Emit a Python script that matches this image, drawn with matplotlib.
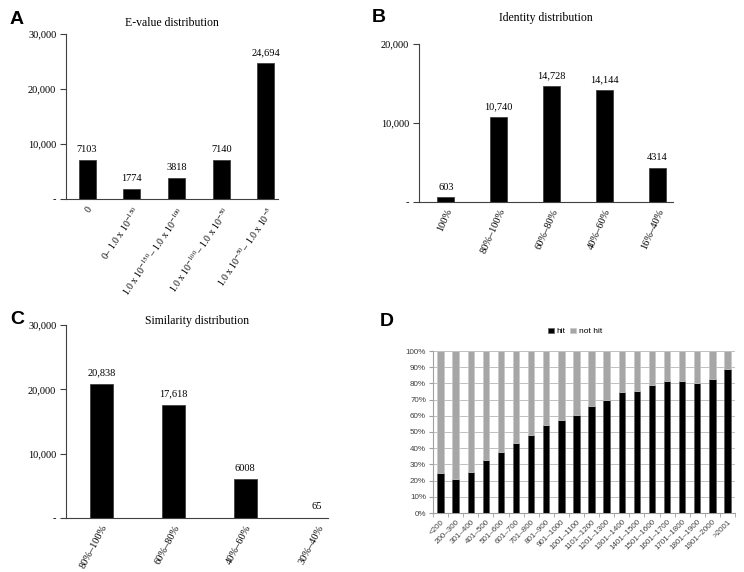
import matplotlib
matplotlib.use("Agg")
import matplotlib.pyplot as plt
import numpy as np

plt.rcParams['font.family'] = 'Liberation Serif'
plt.rcParams['mathtext.fontset'] = 'stix'

# panel A
evalue_labels = ["0", "0– 1.0 x 10$^{-150}$", "1.0 x 10$^{-150}$– 1.0 x 10$^{-100}$",
                 "1.0 x 10$^{-100}$– 1.0 x 10$^{-50}$", "1.0 x 10$^{-50}$– 1.0 x 10$^{-5}$"]
evalue_counts = [7103, 1774, 3818, 7140, 24694]

# panel B
identity_labels = ["100%", "80%–100%", "60%–80%", "40%–60%", "16%–40%"]
identity_counts = [603, 10740, 14728, 14144, 4314]

# panel C
similarity_labels = ["80%–100%", "60%–80%", "40%–60%", "30%–40%"]
similarity_counts = [20838, 17618, 6008, 65]

# panel D
length_labels = ["<200", "200–300", "301–400", "401–500", "501–600", "601–700", "701–800",
                 "801–900", "901–1000", "1001–1100", "1101–1200", "1201–1300", "1301–1400",
                 "1401–1500", "1501–1600", "1601–1700", "1701–1800", "1801–1900",
                 "1901–2000", ">2001"]
hit_pct = [24.6, 21, 25.2, 32.8, 37.9, 43, 48.2, 54.1, 57.4, 60.2, 66.2, 70, 74.4, 75.6,
           78.9, 81.4, 81.4, 80.3, 82.6, 89.1]
not_hit_pct = [100 - v for v in hit_pct]

fig = plt.figure(figsize=(7.44, 5.72), dpi=100)
W, H = 744, 572
FS = 7.5


def px_axes(left, top, right, bottom):
    return fig.add_axes([left / W, 1 - bottom / H, (right - left) / W, (bottom - top) / H])


def count_label(n):
    return f"{n:,}" if n >= 10000 else str(n)


def bar_panel(ax, labels, counts, ymax, step, width, xlim, rot, title, title_y, xfs=FS):
    x = np.arange(len(counts))
    ax.bar(x, counts, width=width, color="black", edgecolor="#404040", linewidth=0.6)
    for xi, c in zip(x, counts):
        ax.text(xi, c + ymax * 0.035, count_label(c), ha="center", va="bottom", fontsize=FS)
    ax.set_ylim(0, ymax)
    ax.set_xlim(*xlim)
    ticks = np.arange(0, ymax + 1, step)
    ax.set_yticks(ticks)
    ax.set_yticklabels(["-"] + [f"{t:,}" for t in ticks[1:]], fontsize=FS)
    ax.set_xticks(x)
    ax.set_xticklabels(labels, rotation=rot, ha="right", rotation_mode="anchor", fontsize=xfs)
    ax.tick_params(axis="x", length=0, pad=4)
    ax.tick_params(axis="y", length=4, width=0.8, color="#404040", pad=3)
    for s in ["top", "right"]:
        ax.spines[s].set_visible(False)
    for s in ["left", "bottom"]:
        ax.spines[s].set_color("#404040")
        ax.spines[s].set_linewidth(0.8)
    ax.set_title(title, fontsize=8.5, y=title_y)


axA = px_axes(66, 34, 278, 199)
bar_panel(axA, evalue_labels, evalue_counts, 30000, 10000, 0.38, (-0.47, 4.27), 56,
          "E-value distribution", 1.0, xfs=7)
fig.text(10 / W, 1 - 20 / H, "A", fontsize=14, fontweight="bold", family="Liberation Sans",
         va="center")

axB = px_axes(419, 44, 673, 202)
bar_panel(axB, identity_labels, identity_counts, 20000, 10000, 0.32, (-0.51, 4.30), 66,
          "Identity distribution", 1.09)
fig.text(372 / W, 1 - 18 / H, "B", fontsize=14, fontweight="bold", family="Liberation Sans",
         va="center")

axC = px_axes(66, 325, 328, 518)
bar_panel(axC, similarity_labels, similarity_counts, 30000, 10000, 0.32, (-0.49, 3.15), 62,
          "Similarity distribution", 0.96)
fig.text(10 / W, 1 - 320 / H, "C", fontsize=14, fontweight="bold", family="Liberation Sans",
         va="center")

# panel D
DFONT = {"family": "Liberation Sans", "size": 5.8}
axD = px_axes(433, 351, 735, 513)
xd = np.arange(len(hit_pct))
axD.bar(xd, hit_pct, width=0.42, color="black", edgecolor="#606060", linewidth=0.5, label="hit",
        zorder=3)
axD.bar(xd, not_hit_pct, width=0.42, bottom=hit_pct, color="#a6a6a6", edgecolor="#c8c8c8",
        linewidth=0.5, label="not hit", zorder=3)
axD.set_ylim(0, 100)
axD.set_xlim(-0.5, len(hit_pct) - 0.5)
axD.set_yticks(np.arange(0, 101, 10))
axD.set_yticklabels([f"{v}%" for v in range(0, 101, 10)], color="#404040", **DFONT)
axD.set_xticks(xd)
axD.set_xticklabels(length_labels, rotation=45, ha="right", rotation_mode="anchor",
                    color="#404040", **DFONT)
axD.set_xticks(np.arange(-0.5, len(hit_pct), 1), minor=True)
axD.tick_params(axis="x", which="major", length=0, pad=4)
axD.tick_params(axis="x", which="minor", length=3, color="#a0a0a0")
axD.tick_params(axis="y", length=3, color="#a0a0a0", pad=2)
axD.grid(axis="y", color="#c0c0c0", linewidth=0.7, zorder=0)
for s in ["top", "right"]:
    axD.spines[s].set_visible(False)
for s in ["left", "bottom"]:
    axD.spines[s].set_color("#a0a0a0")
    axD.spines[s].set_linewidth(0.8)
axD.legend(loc="lower center", bbox_to_anchor=(0.47, 1.07), ncol=2, frameon=False,
           prop={"family": "Liberation Sans", "size": 6}, handlelength=0.7, handleheight=0.7,
           handletextpad=0.3, columnspacing=0.6, borderpad=0)
fig.text(380 / W, 1 - 322 / H, "D", fontsize=14, fontweight="bold", family="Liberation Sans",
         va="center")

fig.savefig("out.png", dpi=100)
